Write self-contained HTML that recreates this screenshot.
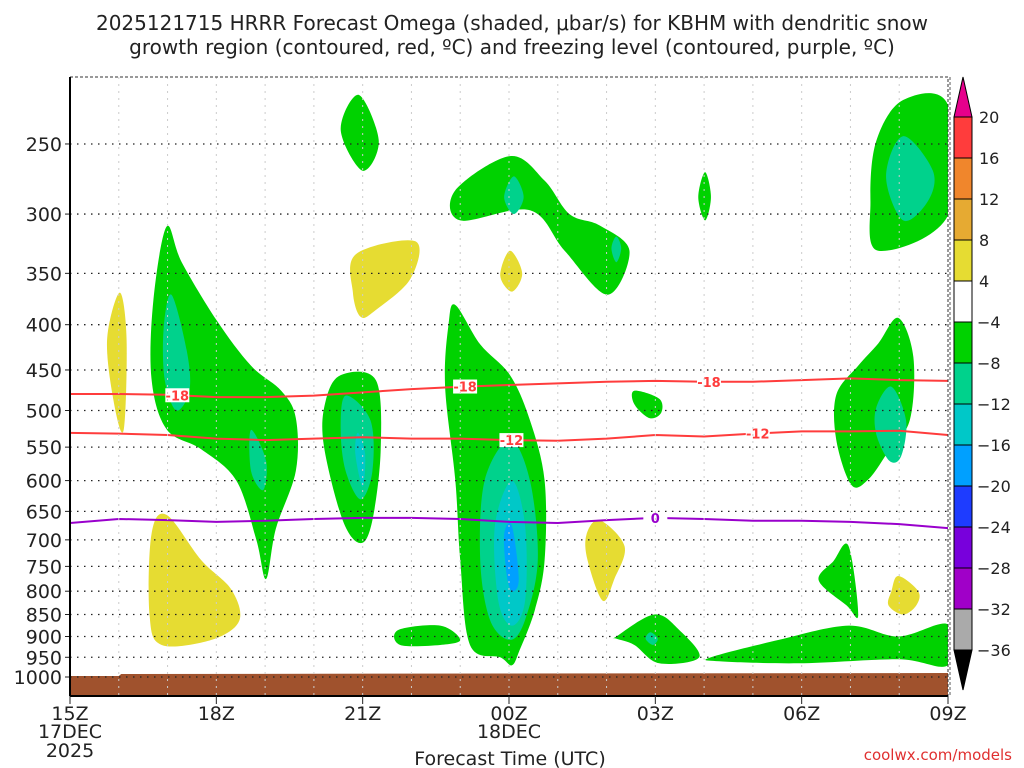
<!DOCTYPE html>
<html><head><meta charset="utf-8">
<style>
body{margin:0;background:#fff;width:1024px;height:768px;overflow:hidden}
svg{display:block}
text{font-family:"DejaVu Sans","Liberation Sans",sans-serif;fill:#222}
</style></head>
<body>
<svg id="chart" width="1024" height="768" viewBox="0 0 1024 768" xmlns="http://www.w3.org/2000/svg">
<text x="512" y="30" font-size="20" text-anchor="middle">2025121715 HRRR Forecast Omega (shaded, μbar/s) for KBHM with dendritic snow</text>
<text x="512" y="54" font-size="20" text-anchor="middle">growth region (contoured, red, ºC) and freezing level (contoured, purple, ºC)</text>
<g id="plot"></g>
<text x="510" y="765" font-size="19" text-anchor="middle">Forecast Time (UTC)</text>
<text x="1012" y="760" font-size="15" text-anchor="end" style="fill:#e03030">coolwx.com/models</text>
</svg>
<script>
const pTicks=[250,300,350,400,450,500,550,600,650,700,750,800,850,900,950,1000];
const xTickLabels=["15Z","18Z","21Z","00Z","03Z","06Z","09Z"];
const cbLevels=[20,16,12,8,4,-4,-8,-12,-16,-20,-24,-28,-32,-36];
const cbColors=["#ff3c3c","#f0862c","#e6aa32","#e6dc32","#ffffff","#00d200","#00d28c","#00c8c8","#00a0ff","#1e3cff","#7800dc","#a000c8","#aaaaaa"];
const hours=[0,1,2,3,4,5,6,7,8,9,10,11,12,13,14,15,16,17,18];
const minus18=[479,479,480,483,483,481,477,473,470,468,466,464,463,464,464,462,460,462,463];
const minus12=[530,531,533,538,540,538,536,538,538,540,541,538,533,535,531,528,528,527,533];
const freezing=[670,663,665,668,666,663,661,661,663,668,670,665,661,663,666,666,668,672,679];
// shaded omega regions: [color, hours[], pressures[]]
const blobs=[
["#00d200",[5.92,6.33,6.0,5.55],[220,248,268,241]],
["#00d200",[7.9,9.02,9.73,10.24,10.86,11.47,11.02,10.14,9.43,8.0],[282,258,275,300,309,330,370,330,297,305]],
["#00d28c",[9.1,9.3,9.1,8.9],[272,287,300,287]],
["#00d28c",[11.2,11.3,11.2,11.1],[318,328,340,328]],
["#00d200",[13.02,13.14,13.02,12.88],[269,287,305,287]],
["#00d200",[17.08,18,18,16.57,16.41,16.53],[223,226,301,330,290,248]],
["#00d28c",[17.08,17.69,17.59,17.08,16.73],[245,268,290,305,272]],
["#e6dc32",[1.02,1.16,1.1,0.9,0.76],[368,416,526,490,416]],
["#00d200",[1.98,2.29,3.0,3.71,4.33,4.63,4.63,4.22,4.02,3.82,3.41,2.69,1.98,1.67,1.71],[310,340,395,445,475,510,585,680,775,700,600,553,525,460,375]],
["#00d28c",[2.08,2.39,2.45,2.18,1.94,1.92],[370,427,474,500,461,404]],
["#00d28c",[3.71,4.02,3.96,3.71],[526,570,615,585]],
["#e6dc32",[1.98,2.69,3.31,3.47,2.9,1.88,1.63,1.67],[656,738,797,864,908,920,850,690]],
["#e6dc32",[5.86,7.08,6.98,6.27,5.96,5.8],[333,322,355,385,392,368]],
["#00d200",[5.55,6.27,6.37,6.2,5.96,5.59,5.2,5.24],[456,462,553,665,706,665,546,488]],
["#00d28c",[5.65,6.16,6.2,5.96,5.65,5.55],[481,513,585,630,585,526]],
["#00c8c8",[5.9,6.05,6.0,5.85],[530,560,610,560]],
["#e6dc32",[9.02,9.27,9.06,8.82],[330,350,367,352]],
["#00d200",[7.9,8.41,9.02,9.43,9.73,9.73,9.53,9.22,9.06,8.82,8.2,8.0,7.9,7.69,7.76],[380,421,456,513,600,738,840,932,970,950,920,738,600,470,400]],
["#00d28c",[9.02,9.43,9.59,9.33,9.02,8.61,8.41,8.5],[540,600,738,862,908,862,738,600]],
["#00c8c8",[9.06,9.33,9.33,9.06,8.78,8.71],[600,675,820,875,820,675]],
["#00a0ff",[9.06,9.2,9.06,8.95,8.9],[675,775,800,765,690]],
["#00d200",[6.73,7.59,8.0,7.59,6.77],[885,875,908,920,920]],
["#00d200",[11.57,12.08,12.12,11.88,11.57],[475,485,503,510,492]],
["#e6dc32",[10.86,11.37,11.16,10.92,10.61,10.59],[665,712,775,820,738,690]],
["#00d200",[11.2,11.98,12.49,12.9,12.08,11.57,11.2],[900,850,885,950,965,920,905]],
["#00d28c",[11.9,12.05,11.95,11.8],[890,905,920,905]],
["#00d200",[13.14,14.53,15.96,16.98,18,18,16.98,14.94,13.31],[950,908,875,900,872,970,955,965,960]],
["#00d200",[16.98,17.29,17.22,16.78,16.37,16.02,15.71,15.71,16.16,16.57],[393,435,512,556,598,607,540,480,445,420]],
["#00d28c",[16.84,17.14,17.04,16.8,16.53,16.53],[470,513,563,570,532,496]],
["#00d200",[15.96,16.16,15.92,15.35,15.65],[711,850,830,778,740]],
["#e6dc32",[16.98,17.39,17.35,17.08,16.78,16.84],[769,800,830,850,830,800]]
];
const lineLabels=[["-18",2.2,"#ff3c3c",minus18],["-18",8.1,"#ff3c3c",minus18],["-18",13.1,"#ff3c3c",minus18],["-12",9.05,"#ff3c3c",minus12],["-12",14.1,"#ff3c3c",minus12],["0",12.0,"#9900cc",freezing]];

const X0=70,X1=948,Y1000=677,K=384.5,TOP=77,BOT=696;
const x=h=>X0+h*(X1-X0)/18;
const y=p=>Y1000+K*Math.log(p/1000);
const NS="http://www.w3.org/2000/svg";
const g=document.getElementById('plot');
function mk(t,a,parent){const e=document.createElementNS(NS,t);for(const k in a)e.setAttribute(k,a[k]);(parent||g).appendChild(e);return e;}
function smooth(pts){let n=pts.length,d="";for(let i=0;i<n;i++){const p0=pts[(i-1+n)%n],p1=pts[i],p2=pts[(i+1)%n],p3=pts[(i+2)%n];
if(i===0)d+="M"+p1[0]+","+p1[1];
const c1=[p1[0]+(p2[0]-p0[0])/6,p1[1]+(p2[1]-p0[1])/6],c2=[p2[0]-(p3[0]-p1[0])/6,p2[1]-(p3[1]-p1[1])/6];
d+="C"+c1[0]+","+c1[1]+" "+c2[0]+","+c2[1]+" "+p2[0]+","+p2[1];}return d+"Z";}
const clip=mk('clipPath',{id:'pc'});mk('rect',{x:X0,y:TOP,width:X1-X0,height:BOT-TOP},clip);
const sg=mk('g',{'clip-path':'url(#pc)'});
blobs.forEach((b,i)=>{const pts=b[1].map((h,j)=>[x(h),y(b[2][j])]);
const e=mk('path',{d:smooth(pts),fill:b[0]},sg);

});
// ground
const gr=mk('path',{d:`M${X0},${y(1000)-1}L${x(1)},${y(1000)-1}L${x(1.05)},${y(1000)-3}L${X1},${y(1000)-4}L${X1},${BOT}L${X0},${BOT}Z`,fill:'#a0522d'},sg);


// grid
for(let h=1;h<18;h++){mk('line',{x1:x(h),x2:x(h),y1:TOP,y2:BOT,stroke:'#ccc','stroke-dasharray':'2,5'});}
pTicks.forEach(p=>{const l=mk('line',{x1:X0,x2:X1,y1:y(p),y2:y(p),stroke:'#222','stroke-width':1.3,'stroke-dasharray':'1.5,5.5'});


mk('line',{x1:X0-5,x2:X0,y1:y(p),y2:y(p),stroke:'#222'});
const t=mk('text',{x:X0-8,y:y(p)+7,'font-size':19,'text-anchor':'end'});t.textContent=p;

});
// lines
function poly(vals,col){const d=hours.map((h,i)=>(i?'L':'M')+x(h)+','+y(vals[i])).join('');return mk('path',{d:d,fill:'none',stroke:col,'stroke-width':2},sg);}
let e=poly(minus18,'#ff3c3c');
e=poly(minus12,'#ff3c3c');
e=poly(freezing,'#9900cc');
lineLabels.forEach(L=>{const h=L[1],i=Math.floor(h),f=h-i,p=L[3][i]*(1-f)+L[3][i+1]*f;
mk('rect',{x:x(h)-12,y:y(p)-7,width:24,height:14,fill:'#fff'},sg);
const t=mk('text',{x:x(h),y:y(p)+5,'font-size':13,'font-weight':'bold','text-anchor':'middle',style:'fill:'+L[2]},sg);t.textContent=L[0];

});
// frame
mk('rect',{x:X0,y:TOP,width:X1-X0,height:BOT-TOP,fill:'none',stroke:'#333','stroke-width':1,'stroke-dasharray':'3,2'});
mk('line',{x1:X0,x2:X0,y1:TOP,y2:BOT,stroke:'#000','stroke-width':2});
mk('line',{x1:X0,x2:X1,y1:BOT,y2:BOT,stroke:'#000','stroke-width':2});
mk('line',{x1:X1+2,x2:X1+2,y1:TOP,y2:BOT,stroke:'#555','stroke-dasharray':'3,2'});
xTickLabels.forEach((s,i)=>{const xx=x(i*3);mk('line',{x1:xx,x2:xx,y1:BOT,y2:BOT+8,stroke:'#222'});
const t=mk('text',{x:xx,y:720,'font-size':19,'text-anchor':'middle'});t.textContent=s;

});
[["17DEC",0,738],["2025",0,757],["18DEC",9,738]].forEach(a=>{const t=mk('text',{x:x(a[1]),y:a[2],'font-size':19,'text-anchor':'middle'});t.textContent=a[0];

});
// colorbar
const cg=mk('g',{},document.getElementById('chart'));


const CX=954,CW=18,cy=i=>117+i*41;
mk('path',{d:`M${CX},117L${CX+CW/2},77L${CX+CW},117Z`,fill:'#e6008c',stroke:'#000'},cg);
mk('path',{d:`M${CX},${cy(13)}L${CX+CW/2},690L${CX+CW},${cy(13)}Z`,fill:'#000',stroke:'#000'},cg);
cbColors.forEach((c,i)=>{mk('rect',{x:CX,y:cy(i),width:CW,height:41,fill:c,stroke:'#000'},cg);});
cbLevels.forEach((v,i)=>{const t=mk('text',{x:v<0?977:979,y:cy(i)+6,'font-size':16},cg);t.textContent=v<0?'\u2212'+(-v):v;

});
</script>
</body></html>
